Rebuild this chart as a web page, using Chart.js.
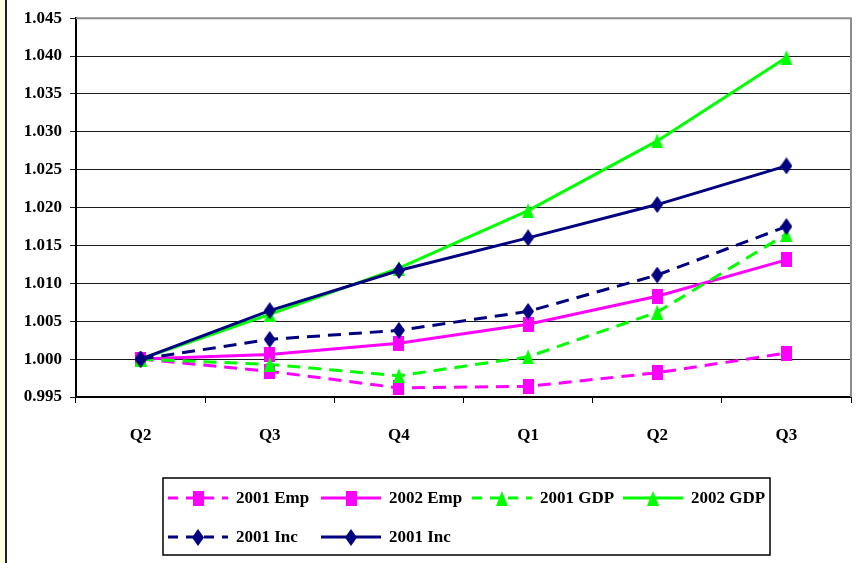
<!DOCTYPE html>
<html>
<head>
<meta charset="utf-8">
<title>Employment, GDP and Income Index</title>
<script src="https://cdn.jsdelivr.net/npm/chart.js@4/dist/chart.umd.min.js"></script>
<style>
  html, body { margin: 0; padding: 0; background: #ffffff; }
  #wrap { position: relative; width: 861px; height: 563px; }
  canvas { display: block; }
</style>
</head>
<body>
<div id="wrap"><canvas id="chart" width="861" height="563"></canvas></div>
<script>
// Quarter labels along the horizontal axis
const quarters = ['Q2', 'Q3', 'Q4', 'Q1', 'Q2', 'Q3'];

// Index values (starting quarter = 1.000)
const emp2001 = [1.0000, 0.9984, 0.9962, 0.9964, 0.9982, 1.0008];
const emp2002 = [1.0000, 1.0006, 1.0021, 1.0046, 1.0083, 1.0131];
const gdp2001 = [1.0000, 0.9993, 0.9978, 1.0003, 1.0062, 1.0165];
const gdp2002 = [1.0000, 1.0059, 1.0120, 1.0196, 1.0288, 1.0398];
const inc2001Dashed = [1.0000, 1.0026, 1.0038, 1.0063, 1.0111, 1.0175];
const inc2001Solid = [1.0000, 1.0064, 1.0117, 1.0160, 1.0204, 1.0255];

// Value axis ticks
const yTicks = [0.995, 1.000, 1.005, 1.010, 1.015, 1.020, 1.025, 1.030, 1.035, 1.040, 1.045];

// Series names as shown in the legend
const seriesNames = ['2001 Emp', '2002 Emp', '2001 GDP', '2002 GDP', '2001 Inc', '2001 Inc'];

const MAGENTA = '#FF00FF';
const GREEN = '#00FF00';
const NAVY = '#000080';
const FONT = '"Liberation Serif", "Times New Roman", serif';

// Small marker images (slightly taller than wide)
function makeMarker(shape, color, w, h) {
  const c = document.createElement('canvas');
  c.width = w; c.height = h;
  const g = c.getContext('2d');
  g.fillStyle = color;
  g.beginPath();
  if (shape === 'square') {
    g.rect(0, 0, w, h);
  } else if (shape === 'triangle') {
    g.moveTo(w / 2, 0); g.lineTo(w, h); g.lineTo(0, h); g.closePath();
  } else {
    g.moveTo(w / 2, 0); g.lineTo(w, h / 2); g.lineTo(w / 2, h); g.lineTo(0, h / 2); g.closePath();
  }
  g.fill();
  return c;
}
const squareMk = makeMarker('square', MAGENTA, 11, 15);
const triMk = makeMarker('triangle', GREEN, 12, 15);
const diaMk = makeMarker('diamond', NAVY, 12, 17);

const DASH = [13, 8];
function series(i, data, color, marker, dashed) {
  return {
    label: seriesNames[i],
    data: data,
    borderColor: color,
    backgroundColor: color,
    borderWidth: 3,
    borderDash: dashed ? DASH : [],
    pointStyle: marker,
    pointRadius: 7,
    pointHoverRadius: 7,
    tension: 0,
    fill: false,
    clip: false,
    order: 10 - i
  };
}

const datasets = [
  series(0, emp2001, MAGENTA, squareMk, true),
  series(1, emp2002, MAGENTA, squareMk, false),
  series(2, gdp2001, GREEN, triMk, true),
  series(3, gdp2002, GREEN, triMk, false),
  series(4, inc2001Dashed, NAVY, diaMk, true),
  series(5, inc2001Solid, NAVY, diaMk, false)
];

// Page frame: pale strip with a dark rule on the left edge
const framePlugin = {
  id: 'frame',
  beforeDraw(chart) {
    const ctx = chart.ctx;
    ctx.save();
    ctx.fillStyle = '#ffffff';
    ctx.fillRect(0, 0, chart.width, chart.height);
    ctx.fillStyle = '#FFFFE4';
    ctx.fillRect(0, 0, 5, chart.height);
    ctx.fillStyle = '#222222';
    ctx.fillRect(5, 0, 2, chart.height);
    ctx.restore();
  },
  beforeDatasetsDraw(chart) {
    const a = chart.chartArea;
    const ctx = chart.ctx;
    ctx.save();
    ctx.strokeStyle = '#8c8c8c';
    ctx.lineWidth = 2;
    ctx.beginPath();
    ctx.moveTo(a.left, a.top);
    ctx.lineTo(a.right, a.top);
    ctx.lineTo(a.right, a.bottom);
    ctx.stroke();
    ctx.restore();
  }
};

// Boxed two-row legend below the plot, each sample showing line style and marker
const boxLegendPlugin = {
  id: 'boxLegend',
  afterDraw(chart) {
    const ctx = chart.ctx;
    const box = { x: 163, y: 478, w: 607, h: 77 };
    const cols = [168, 321, 472, 623];
    const rows = [498, 537];
    const sampleLen = 60;
    const textOffset = 68;
    ctx.save();
    ctx.strokeStyle = '#000000';
    ctx.lineWidth = 1.5;
    ctx.strokeRect(box.x, box.y, box.w, box.h);
    ctx.font = 'bold 17px ' + FONT;
    ctx.textBaseline = 'middle';
    ctx.textAlign = 'left';
    chart.data.datasets.forEach((ds, i) => {
      const x = cols[i % 4];
      const y = rows[Math.floor(i / 4)];
      ctx.strokeStyle = ds.borderColor;
      ctx.lineWidth = 3;
      ctx.setLineDash(ds.borderDash.length ? [10, 8] : []);
      ctx.beginPath();
      ctx.moveTo(x, y);
      ctx.lineTo(x + sampleLen, y);
      ctx.stroke();
      ctx.setLineDash([]);
      const mk = ds.pointStyle;
      ctx.drawImage(mk, Math.round(x + sampleLen / 2 - mk.width / 2), Math.round(y - mk.height / 2));
      ctx.fillStyle = '#000000';
      ctx.fillText(ds.label, x + textOffset, y + 1);
    });
    ctx.restore();
  }
};

new Chart(document.getElementById('chart'), {
  type: 'line',
  data: { labels: quarters, datasets: datasets },
  options: {
    responsive: false,
    animation: false,
    devicePixelRatio: 1,
    layout: { padding: { left: 0, right: 3, top: 17, bottom: 105 } },
    plugins: {
      legend: { display: false },
      tooltip: { enabled: false }
    },
    scales: {
      x: {
        type: 'category',
        offset: true,
        grid: {
          offset: true,
          drawOnChartArea: false,
          drawTicks: true,
          tickLength: 6,
          color: '#000000',
          lineWidth: 1
        },
        border: { display: true, color: '#000000', width: 2 },
        ticks: {
          color: '#000000',
          padding: 22,
          font: { family: FONT, size: 17, weight: 'bold' },
          maxRotation: 0,
          autoSkip: false
        },
        afterFit(scale) { scale.height = 61; }
      },
      y: {
        min: yTicks[0],
        max: yTicks[yTicks.length - 1],
        afterBuildTicks(scale) {
          scale.ticks = yTicks.map(v => ({ value: v }));
        },
        grid: {
          color: '#1a1a1a',
          lineWidth: 1,
          drawTicks: true,
          tickLength: 6
        },
        border: { display: true, color: '#000000', width: 2 },
        ticks: {
          color: '#000000',
          padding: 8,
          font: { family: FONT, size: 17, weight: 'bold' },
          callback: v => Number(v).toFixed(3)
        },
        afterFit(scale) { scale.width = 76; }
      }
    }
  },
  plugins: [framePlugin, boxLegendPlugin]
});
</script>
</body>
</html>
